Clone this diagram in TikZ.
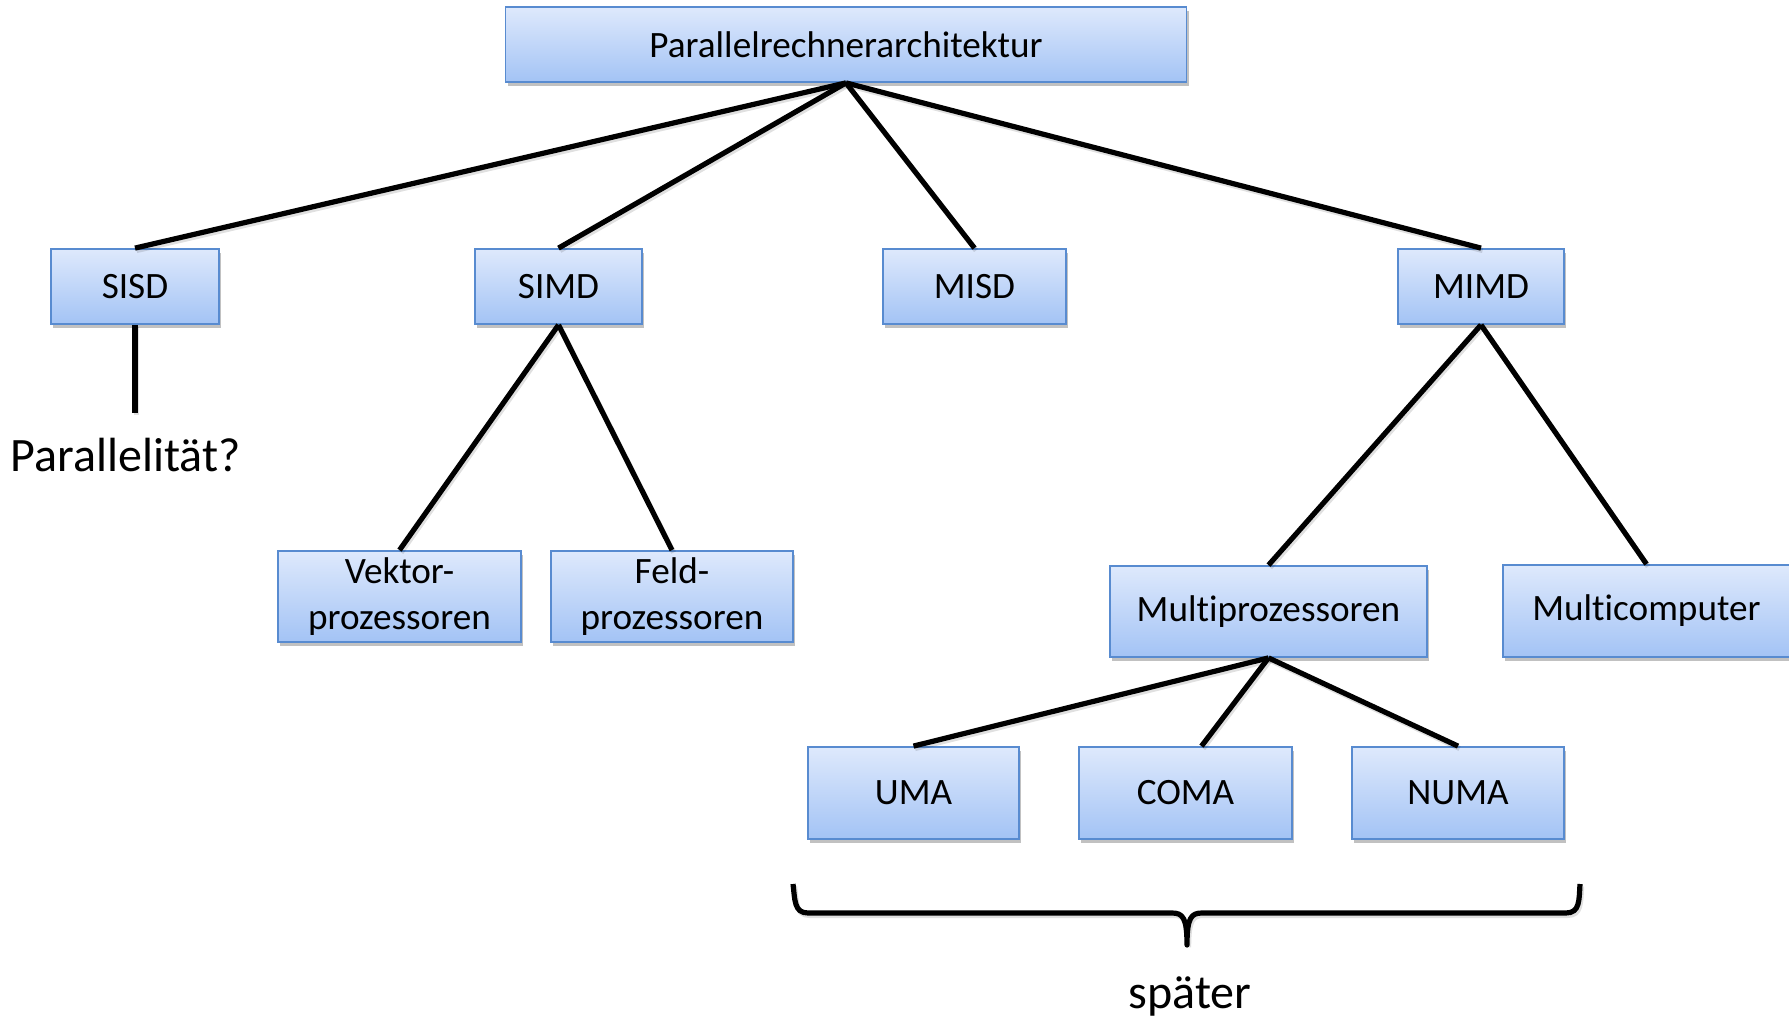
\documentclass[tikz,border=0pt]{standalone}
\usepackage{fontspec}
\setmainfont{Carlito}[Ligatures=NoCommon]
\usetikzlibrary{shadows}
\definecolor{boxtop}{RGB}{222,233,252}
\definecolor{boxbot}{RGB}{163,195,245}
\definecolor{boxline}{RGB}{88,139,208}
\begin{document}
\begin{tikzpicture}[x=0.5pt,y=-0.5pt,
  box/.style={draw=boxline, line width=0.9pt, top color=boxtop, bottom color=boxbot,
    inner sep=0pt, align=center, font=\fontsize{18.6}{22.8}\selectfont,
    drop shadow={shadow xshift=1.2pt, shadow yshift=-1.8pt, opacity=0.35, fill=black!70}},
  link/.style={line width=2.6pt, black,
    preaction={draw, line width=2.6pt, black, opacity=0.12, transform canvas={shift={(0.8pt,-1.2pt)}}}},
  bigtext/.style={font=\fontsize{24}{28}\selectfont, inner sep=0pt}]
\useasboundingbox (0,0) rectangle (1789,1021);

% root and first level
\node[box, minimum width=340.5pt, minimum height=37.5pt] (root) at (846,44.5) {Parallelrechnerarchitektur};
\node[box, minimum width=84pt,  minimum height=37.5pt] (sisd) at (135,286.5) {SISD};
\node[box, minimum width=83.5pt, minimum height=37.5pt] (simd) at (558.5,286.5) {SIMD};
\node[box, minimum width=91.5pt, minimum height=37.5pt] (misd) at (974.5,286.5) {MISD};
\node[box, minimum width=83pt,  minimum height=37.5pt] (mimd) at (1481,286.5) {MIMD};

% SIMD branch
\node[box, minimum width=121.5pt, minimum height=45.5pt] (vektor) at (399.5,596.5) {Vektor-\\prozessoren};
\node[box, minimum width=121pt,   minimum height=45.5pt] (feld) at (672,596.5) {Feld-\\prozessoren};

% MIMD branch
\node[box, minimum width=158.5pt, minimum height=45.5pt] (multip) at (1268.5,611.5) {Multiprozessoren};
\node[box, minimum width=143.5pt, minimum height=46pt] (multic) at (1646.5,611) {Multicomputer};

% memory models
\node[box, minimum width=105.5pt, minimum height=46pt] (uma) at (913.5,793) {UMA};
\node[box, minimum width=106.5pt, minimum height=46pt] (coma) at (1185.5,793) {COMA};
\node[box, minimum width=106pt,   minimum height=46pt] (numa) at (1458,793) {NUMA};

% free labels
\node[bigtext] (par) at (125.5,455) {Parallelität?};
\coordinate (parend) at (135,413);
\node[bigtext] (spaeter) at (1190,996) {später};

% connectors
\draw[link] (root.south) -- (sisd.north);
\draw[link] (root.south) -- (simd.north);
\draw[link] (root.south) -- (misd.north);
\draw[link] (root.south) -- (mimd.north);
\draw[link] (sisd.south) -- (parend);
\draw[link] (simd.south) -- (vektor.north);
\draw[link] (simd.south) -- (feld.north);
\draw[link] (mimd.south) -- (multip.north);
\draw[link] (mimd.south) -- (multic.north);
\draw[link] (multip.south) -- (uma.north);
\draw[link] (multip.south) -- ([xshift=8pt]coma.north);
\draw[link] (multip.south) -- (numa.north);

% brace under the memory models
\draw[link, line join=round]
  (793,884) .. controls (795,900) and (794,913) .. (808,913)
  -- (1172,913) .. controls (1183,913) and (1187,918) .. (1187,945)
  .. controls (1187,918) and (1191,913) .. (1202,913)
  -- (1566,913) .. controls (1580,913) and (1579,900) .. (1580,884);
\end{tikzpicture}
\end{document}
